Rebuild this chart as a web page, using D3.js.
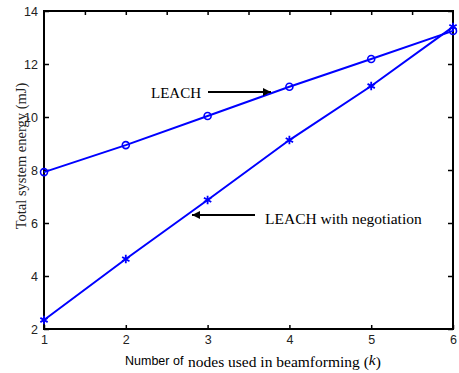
<!DOCTYPE html>
<html><head><meta charset="utf-8">
<script src="https://cdn.jsdelivr.net/npm/d3@7"></script>
<style>body{margin:0;background:#fff}svg{display:block}</style>
</head><body>
<svg id="c" width="459" height="373"></svg>
<script>
const nodes = [1, 2, 3, 4, 5, 6];
const leach = [7.92, 8.94, 10.04, 11.14, 12.19, 13.25];
const leachNeg = [2.34, 4.64, 6.87, 9.13, 11.17, 13.4];
const xTicks = [1, 2, 3, 4, 5, 6];
const xTopTicks = [1.5, 2, 2.5, 3, 3.5, 4, 4.5, 5, 5.5];
const yTicks = [2, 4, 6, 8, 10, 12, 14];

const svg = d3.select("#c");
const L = 44, R = 453, T = 11, B = 329;
const x = d3.scaleLinear().domain([1, 6]).range([L, R]);
const y = d3.scaleLinear().domain([2, 14]).range([B, T]);
const sans = "Liberation Sans, Arial, sans-serif";
const serif = "Liberation Serif, Times New Roman, serif";

const gx = svg.append("g").attr("transform", `translate(0,${B})`)
  .call(d3.axisBottom(x).tickValues(xTicks).tickSizeInner(-4).tickSizeOuter(0).tickPadding(9).tickFormat(d3.format("d")));
const gy = svg.append("g").attr("transform", `translate(${L},0)`)
  .call(d3.axisLeft(y).tickValues(yTicks).tickSizeInner(-5).tickSizeOuter(0).tickPadding(6).tickFormat(d3.format("d")));
const gt = svg.append("g").attr("transform", `translate(0,${T})`)
  .call(d3.axisTop(x).tickValues(xTopTicks).tickSizeInner(-4).tickSizeOuter(0).tickFormat(""));
const gr = svg.append("g").attr("transform", `translate(${R},0)`)
  .call(d3.axisRight(y).tickValues(yTicks).tickSizeInner(-5).tickSizeOuter(0).tickFormat(""));
[gx, gy, gt, gr].forEach(g => {
  g.select(".domain").remove();
  g.selectAll(".tick line").attr("stroke", "#000").attr("stroke-width", 1.5);
  g.selectAll(".tick text").attr("font-family", sans).attr("font-size", 12.5).attr("fill", "#222");
});
gx.selectAll(".tick text").attr("dy", "0.5em");

svg.append("rect").attr("x", L).attr("y", T).attr("width", R - L).attr("height", B - T)
  .attr("fill", "none").attr("stroke", "#000").attr("stroke-width", 2);

const line = d3.line().x((d, i) => x(nodes[i])).y(d => y(d));
const blue = "#0000ff";
svg.append("path").datum(leach).attr("d", line).attr("fill", "none").attr("stroke", blue).attr("stroke-width", 2);
svg.append("path").datum(leachNeg).attr("d", line).attr("fill", "none").attr("stroke", blue).attr("stroke-width", 2);

svg.append("g").selectAll("circle").data(leach).join("circle")
  .attr("cx", (d, i) => x(nodes[i])).attr("cy", d => y(d)).attr("r", 3.5)
  .attr("fill", "none").attr("stroke", blue).attr("stroke-width", 1.6);

const star = d3.symbol().type(d3.symbolAsterisk).size(50);
svg.append("g").selectAll("path").data(leachNeg).join("path")
  .attr("transform", (d, i) => `translate(${x(nodes[i])},${y(d)})`)
  .attr("d", star).attr("fill", "none").attr("stroke", blue).attr("stroke-width", 1.8);

svg.append("defs").append("marker").attr("id", "ah").attr("viewBox", "0 0 10 10")
  .attr("refX", 10).attr("refY", 5).attr("markerWidth", 5).attr("markerHeight", 4)
  .attr("markerUnits", "strokeWidth").attr("orient", "auto")
  .append("path").attr("d", "M0,0L10,5L0,10z").attr("fill", "#000");

svg.append("text").attr("x", 151).attr("y", 98).attr("font-family", serif).attr("font-size", 15).text("LEACH");
svg.append("line").attr("x1", 208).attr("y1", 92).attr("x2", 271).attr("y2", 92)
  .attr("stroke", "#000").attr("stroke-width", 2).attr("marker-end", "url(#ah)");
svg.append("text").attr("x", 265).attr("y", 224).attr("font-family", serif).attr("font-size", 15.5).text("LEACH with negotiation");
svg.append("line").attr("x1", 255).attr("y1", 215).attr("x2", 192).attr("y2", 215)
  .attr("stroke", "#000").attr("stroke-width", 2).attr("marker-end", "url(#ah)");

svg.append("text").attr("x", 125).attr("y", 365).attr("font-family", sans).attr("font-size", 12.5).text("Number of");
const xl = svg.append("text").attr("x", 188).attr("y", 367).attr("font-family", serif).attr("font-size", 15.5);
xl.append("tspan").text("nodes used in beamforming (");
xl.append("tspan").attr("font-style", "italic").attr("dy", -2).text("k");
xl.append("tspan").attr("dy", 2).text(")");

svg.append("text").attr("transform", "translate(26,156) rotate(-90)").attr("text-anchor", "middle")
  .attr("font-family", serif).attr("font-size", 14.5).attr("fill", "#222").text("Total system energy (mJ)");
</script>
</body></html>
